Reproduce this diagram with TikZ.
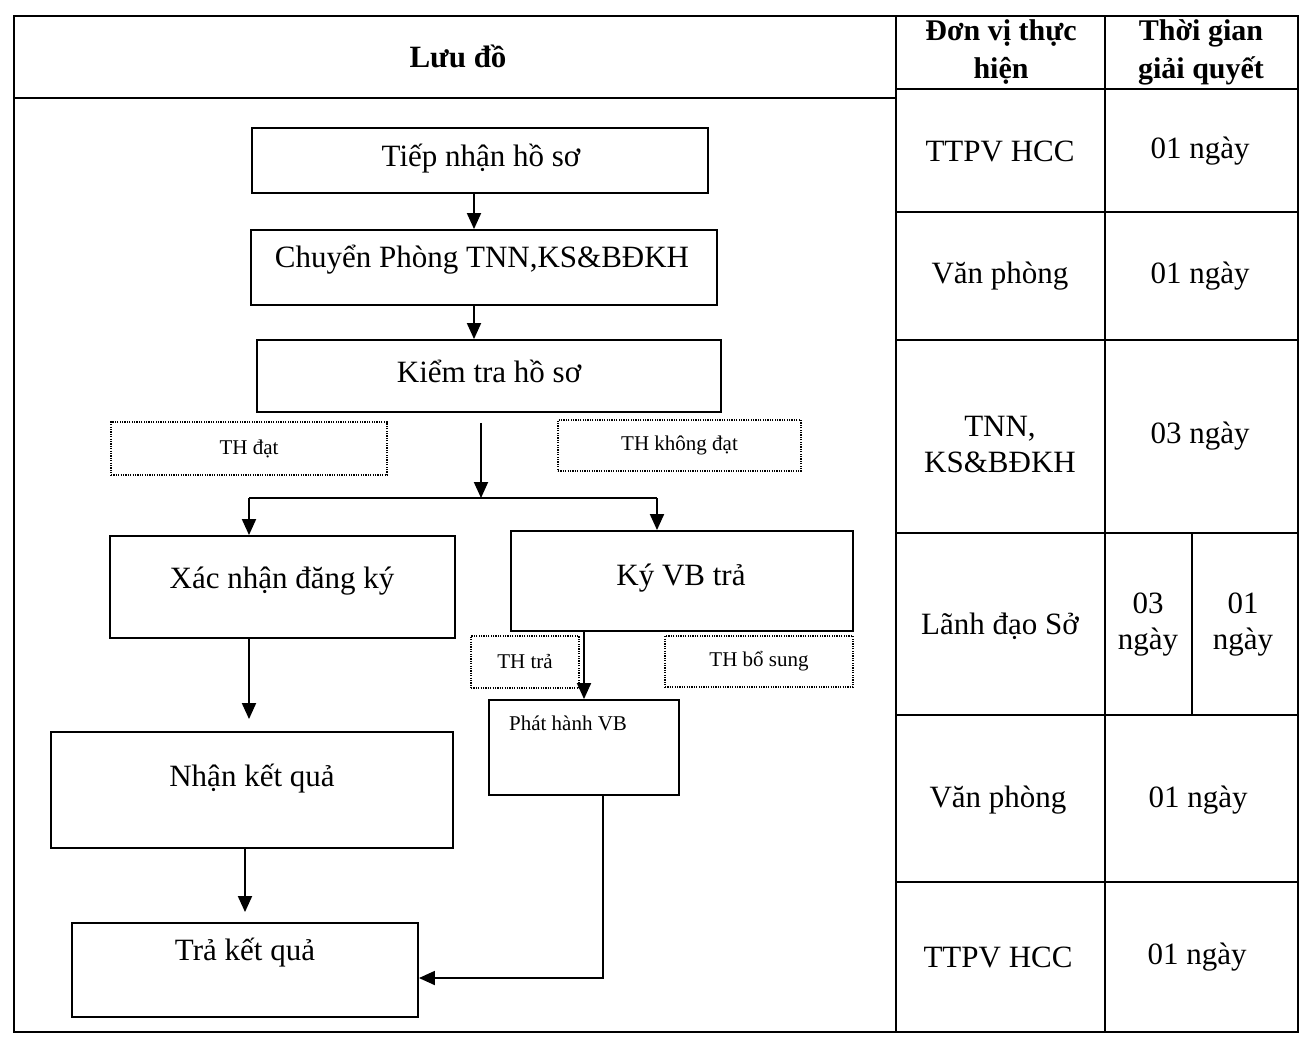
\documentclass[tikz,border=0pt]{standalone}
\usepackage{fontspec}
\setmainfont{Liberation Serif}
\usetikzlibrary{arrows.meta}
\begin{document}
\begin{tikzpicture}[x=1pt,y=-1pt,
  frame/.style={line width=1.7pt},
  box/.style={draw,line width=1.9pt,inner sep=0pt},
  tbox/.style={draw,line width=1.3pt,dash pattern=on 1.2pt off 1.2pt,inner sep=0pt,font=\fontsize{21}{24}\selectfont},
  txt/.style={font=\fontsize{31}{36}\selectfont,align=center},
  head/.style={font=\bfseries\fontsize{30}{38}\selectfont,align=center},
  arr/.style={line width=1.9pt,-{Triangle[length=16pt,width=14pt]}},
  ln/.style={line width=1.9pt}]
\useasboundingbox (0,0) rectangle (1303,1037);
% table frame
\draw[frame] (14,16) rectangle (1298,1032);
\draw[frame] (14,98) -- (896,98);
\draw[frame] (896,89) -- (1298,89);
\draw[frame] (896,16) -- (896,1032);
\draw[frame] (1105,16) -- (1105,1032);
\draw[frame] (896,212) -- (1298,212);
\draw[frame] (896,340) -- (1298,340);
\draw[frame] (896,533) -- (1298,533);
\draw[frame] (896,715) -- (1298,715);
\draw[frame] (896,882) -- (1298,882);
\draw[frame] (1192,533) -- (1192,715);
% headers
\node[head,font=\bfseries\fontsize{31}{38}\selectfont] (hluu) at (458,56) {Lưu đồ};
\node[head] (hdv) at (1001,52) {Đơn vị thực\\hiện};
\node[head] (htg) at (1201,52) {Thời gian\\giải quyết};
% table texts
\node[txt] (d1) at (1000,151) {TTPV HCC};
\node[txt] (g1) at (1200,151) {01 ngày};
\node[txt] (d2) at (1000,276) {Văn phòng};
\node[txt] (g2) at (1200,276) {01 ngày};
\node[txt] (d3) at (1000,444) {TNN,\\KS\&BĐKH};
\node[txt] (g3) at (1200,436) {03 ngày};
\node[txt] (d4) at (1000,626) {Lãnh đạo Sở};
\node[txt] (g4a) at (1148,625) {03\\ngày};
\node[txt] (g4b) at (1243,625) {01\\ngày};
\node[txt] (d5) at (998,800) {Văn phòng};
\node[txt] (g5) at (1198,800) {01 ngày};
\node[txt] (d6) at (998,957) {TTPV HCC};
\node[txt] (g6) at (1197,957) {01 ngày};
% flow boxes
\node[box,minimum width=456,minimum height=65] (t1) at (480,160.5) {};
\node[txt] (t1t) at (481,159) {Tiếp nhận hồ sơ};
\node[box,minimum width=466,minimum height=75] (t2) at (484,267.5) {};
\node[txt] (t2t) at (482,260) {Chuyển Phòng TNN,KS\&BĐKH};
\node[box,minimum width=464,minimum height=72] (k) at (489,376) {};
\node[txt] (kt) at (489,371) {Kiểm tra hồ sơ};
\node[tbox,minimum width=276,minimum height=53] (thd) at (249,448.5) {TH đạt};
\node[tbox,minimum width=243,minimum height=51] (thk) at (679.5,445.5) {TH không đạt};
\node[box,minimum width=345,minimum height=102] (x1) at (282.5,587) {};
\node[txt] (x1t) at (282,581) {Xác nhận đăng ký};
\node[box,minimum width=342,minimum height=100] (ky) at (682,581) {};
\node[txt] (kyt) at (681,578) {Ký VB trả};
\node[tbox,minimum width=108,minimum height=52] (thtra) at (525,662) {TH trả};
\node[tbox,minimum width=188,minimum height=51] (thbs) at (759,661.5) {TH bổ sung};
\node[box,minimum width=190,minimum height=95] (ph) at (584,747.5) {};
\node[font=\fontsize{21}{24}\selectfont] (pht) at (568,723) {Phát hành VB};
\node[box,minimum width=402,minimum height=116] (nk) at (252,790) {};
\node[txt] (nkt) at (252,779) {Nhận kết quả};
\node[box,minimum width=346,minimum height=94] (tk) at (245,970) {};
\node[txt] (tkt) at (245,953) {Trả kết quả};
% connectors
\coordinate (j) at (481,498);
\coordinate (jl) at (249,498);
\coordinate (jr) at (657,498);
\coordinate (bend) at (603,978);
\draw[arr] ([xshift=-6pt]t1.south) -- ([xshift=-6pt]t1.south |- t2.north);
\draw[arr] ([xshift=-10pt]t2.south) -- ([xshift=-10pt]t2.south |- k.north);
\draw[arr] ([yshift=-10pt]k.south -| j) -- (j);
\draw[ln] (jl) -- (jr);
\draw[arr] (jl) -- (jl |- x1.north);
\draw[arr] (jr) -- (jr |- ky.north);
\draw[arr] (ky.south -| ph.north) -- (ph.north);
\draw[arr,shorten >=12pt] (x1.south -| jl) -- (jl |- nk.north);
\draw[arr,shorten >=10pt] (nk.south -| tk.north) -- (tk.north);
\draw[arr] (ph.south -| bend) -- (bend) -- (tk.east |- bend);
\end{tikzpicture}
\end{document}
